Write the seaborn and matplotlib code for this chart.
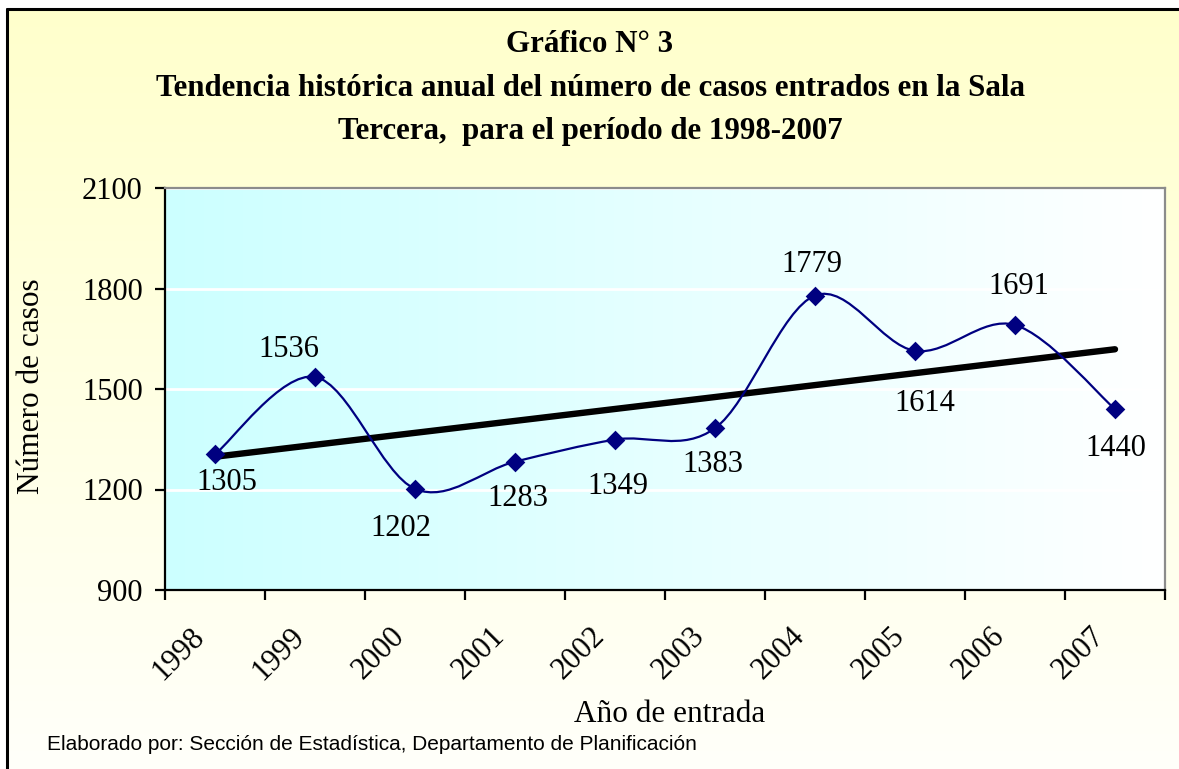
import numpy as np
import matplotlib
matplotlib.use("Agg")
import matplotlib.pyplot as plt
import seaborn as sns
import pandas as pd
from matplotlib.path import Path
from matplotlib.patches import PathPatch
from matplotlib.colors import LinearSegmentedColormap
from matplotlib.lines import Line2D
from matplotlib.transforms import ScaledTranslation

# data
years = ["1998", "1999", "2000", "2001", "2002", "2003", "2004", "2005", "2006", "2007"]
cases = [1305, 1536, 1202, 1283, 1349, 1383, 1779, 1614, 1691, 1440]

title_lines = ["Gráfico N° 3",
               "Tendencia histórica anual del número de casos entrados en la Sala",
               "Tercera,  para el período de 1998-2007"]
footer = "Elaborado por: Sección de Estadística, Departamento de Planificación"

# label offsets in pixels (dx right, dy up)
label_offsets = [(12, -28), (-26, 27), (-14, -40), (3, -37), (3, -47),
                 (-2, -36), (-3, 31), (10, -53), (4, 39), (1, -39)]

W, H = 1179, 769
sns.set_style("white")
plt.rcParams["font.family"] = ["Liberation Serif", "DejaVu Serif"]
plt.rcParams["text.color"] = "black"
plt.rcParams["xtick.color"] = "black"
plt.rcParams["ytick.color"] = "black"
plt.rcParams["axes.labelcolor"] = "black"

fig = plt.figure(figsize=(W / 100, H / 100), dpi=100)
fig.patch.set_facecolor("white")

# chart area background: vertical yellow -> white gradient
bg = fig.add_axes([7 / W, 0, 1 - 7 / W, 1 - 9 / H], zorder=-10)
bg_cmap = LinearSegmentedColormap.from_list("bg", ["#FFFFCC", "#FFFFFA"])
bg.imshow(np.linspace(0, 1, 256).reshape(-1, 1), cmap=bg_cmap, aspect="auto",
          extent=[0, 1, 0, 1])
bg.set_axis_off()
fig.add_artist(Line2D([7 / W, 1], [1 - 9 / H, 1 - 9 / H], color="black", lw=2.2,
                      transform=fig.transFigure))
fig.add_artist(Line2D([7 / W, 7 / W], [0, 1 - 9 / H], color="black", lw=2.2,
                      transform=fig.transFigure))

df = pd.DataFrame({"x": np.arange(len(years)), "casos": cases})

ax = fig.add_axes([165 / W, 1 - 590 / H, 1000 / W, 402 / H])
ax.set_xlim(-0.5, len(years) - 0.5)
ax.set_ylim(900, 2100)

# plot area: horizontal cyan -> white gradient
pa_cmap = LinearSegmentedColormap.from_list("pa", ["#CCFFFF", "#FFFFFF"])
ax.imshow(np.linspace(0, 1, 256).reshape(1, -1), cmap=pa_cmap, aspect="auto",
          extent=[-0.5, len(years) - 0.5, 900, 2100], zorder=0)

ax.set_yticks([900, 1200, 1500, 1800, 2100])
ax.grid(axis="y", color="white", lw=2, zorder=1)
ax.grid(axis="x", visible=False)
ax.set_axisbelow(True)

# linear trend line
sns.regplot(data=df, x="x", y="casos", ax=ax, scatter=False, ci=None, truncate=True,
            line_kws={"color": "black", "lw": 4.6, "solid_capstyle": "round", "zorder": 3})

# smoothed line (Catmull-Rom style bezier like Excel)
pts = df[["x", "casos"]].to_numpy(dtype=float)
verts = [pts[0]]
codes = [Path.MOVETO]
n = len(pts)
for i in range(n - 1):
    p0 = pts[i - 1] if i > 0 else pts[i]
    p1, p2 = pts[i], pts[i + 1]
    p3 = pts[i + 2] if i + 2 < n else pts[i + 1]
    verts += [p1 + (p2 - p0) / 6, p2 - (p3 - p1) / 6, p2]
    codes += [Path.CURVE4] * 3
ax.add_patch(PathPatch(Path(verts, codes), fill=False, edgecolor="#000080", lw=1.6, zorder=4))

sns.scatterplot(data=df, x="x", y="casos", ax=ax, marker="D", s=100, color="#000080",
                edgecolor="#000080", linewidth=0, zorder=5)

for i, v in enumerate(cases):
    dx, dy = label_offsets[i]
    ax.annotate(str(v), xy=(i, v), xytext=(dx, dy), textcoords="offset pixels",
                ha="center", va="center", fontsize=22, color="black", zorder=6)

# axes styling
for side in ["left", "bottom"]:
    ax.spines[side].set_color("black")
    ax.spines[side].set_linewidth(1.6)
for side in ["top", "right"]:
    ax.spines[side].set_color("#8C8C8C")
    ax.spines[side].set_linewidth(1.6)

ax.set_xticks(np.arange(-0.5, len(years), 1.0))
ax.set_xticklabels([])
ax.set_xticks(np.arange(len(years)), minor=True)
ax.set_xticklabels(years, minor=True, rotation=45, ha="right", va="center",
                   rotation_mode="anchor", fontsize=22)
ax.tick_params(axis="x", which="major", direction="out", length=7, width=1.6,
               color="black", bottom=True)
ax.tick_params(axis="x", which="minor", length=0, pad=16)
shift = ScaledTranslation(-0.15, -0.2, fig.dpi_scale_trans)
for lbl in ax.get_xticklabels(minor=True):
    lbl.set_transform(lbl.get_transform() + shift)
ax.tick_params(axis="y", direction="out", length=7, width=1.6, color="black",
               left=True, labelsize=22, pad=9)

ax.set_xlabel("")
ax.set_ylabel("")
fig.text(32 / W, 1 - 386 / H, "Número de casos", rotation=90, ha="center",
         va="center", fontsize=22.5)
fig.text(670 / W, 1 - 715 / H, "Año de entrada", ha="center", va="center", fontsize=22.5)

for k, line in enumerate(title_lines):
    fig.text(590 / W, 1 - (45 + 43 * k) / H, line, ha="center", va="center",
             fontsize=22.2, fontweight="bold")
fig.text(47 / W, 1 - 744 / H, footer, ha="left", va="center", fontsize=15,
         family=["Liberation Sans", "DejaVu Sans"])

fig.savefig("out.png", dpi=100)
